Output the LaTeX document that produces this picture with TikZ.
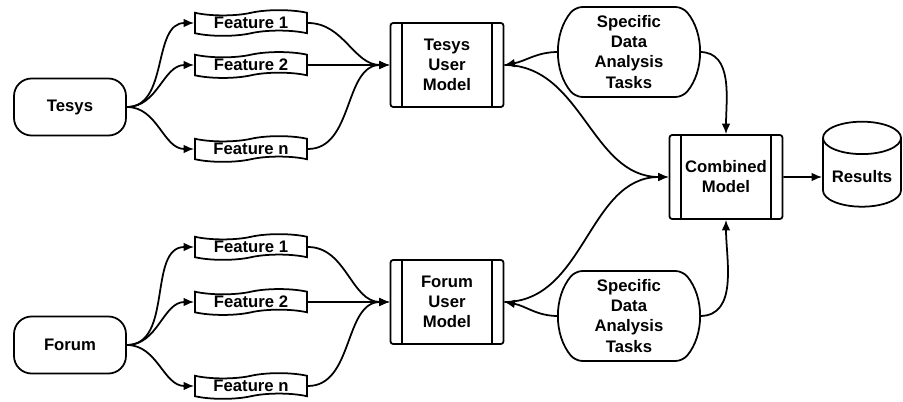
\documentclass[tikz,border=0pt]{standalone}
\usepackage{fontspec}
\setmainfont{Liberation Sans}
\usepackage{tikz}
\usetikzlibrary{shapes,arrows.meta}
\tikzstyle{source} = [rectangle, draw, rounded corners=10pt,
    minimum width=2.24cm, minimum height=1.14cm]
\tikzstyle{feature} = [tape, draw, tape bend top=in and out, tape bend bottom=in and out,
    tape bend height=3pt, minimum width=2.24cm, minimum height=0.5cm, inner sep=1pt]
\tikzstyle{model} = [rectangle, draw, rounded corners=1.5pt, align=center,
    minimum width=2.26cm, minimum height=1.68cm,
    path picture={
      \draw[line width=1pt] ([xshift=0.23cm]path picture bounding box.north west)
        -- ([xshift=0.23cm]path picture bounding box.south west);
      \draw[line width=1pt] ([xshift=-0.23cm]path picture bounding box.north east)
        -- ([xshift=-0.23cm]path picture bounding box.south east);}]
\tikzstyle{task} = [rounded rectangle, rounded rectangle arc length=80, rounded corners=4pt,
    draw, align=center, minimum width=2.28cm, minimum height=1.8cm, inner sep=1pt]
\tikzstyle{store} = [cylinder, shape border rotate=90, aspect=0.45, draw,
    minimum width=1.56cm, minimum height=1.7cm]
\tikzstyle{line} = [draw, -{Latex[length=6pt, width=5pt]}]

\begin{document}
\begin{tikzpicture}[node distance = 3cm, line width=1pt,
    font=\fontsize{9.5}{11.4}\selectfont\bfseries]
    \useasboundingbox (-1.4,2.14) rectangle (16.66,-5.88);
    % Place nodes
    \node [source] (tesys) {Tesys};
    \node [source, below of=tesys, node distance=4.76cm] (forum) {Forum};
    \node [feature, right of=tesys, node distance=3.62cm, yshift=0.84cm] (tfeat2) {Feature 2};
    \node [feature, above of=tfeat2, node distance=0.84cm] (tfeat1) {Feature 1};
    \node [feature, below of=tfeat2, node distance=1.68cm] (tfeatn) {Feature n};
    \node [feature, right of=forum, node distance=3.62cm, yshift=0.86cm] (ffeat2) {Feature 2};
    \node [feature, above of=ffeat2, node distance=1.1cm] (ffeat1) {Feature 1};
    \node [feature, below of=ffeat2, node distance=1.68cm] (ffeatn) {Feature n};
    \node [model, right of=tfeat2, node distance=3.92cm] (tmodel) {Tesys\\User\\Model};
    \node [model, right of=ffeat2, node distance=3.92cm] (fmodel) {Forum\\User\\Model};
    \node [task, right of=tmodel, node distance=3.64cm, yshift=0.26cm] (ttask) {Specific\\Data\\Analysis\\Tasks};
    \node [task, right of=fmodel, node distance=3.64cm, yshift=-0.28cm] (ftask) {Specific\\Data\\Analysis\\Tasks};
    \node [model, right of=tmodel, node distance=5.58cm, yshift=-2.24cm] (combined) {Combined\\Model};
    \node [store, right of=combined, node distance=2.72cm] (results) {Results};
    % Draw edges
    \path [line] (tesys.east) to[out=0, in=180] (tfeat1.west);
    \path [line] (tesys.east) to[out=0, in=180] (tfeat2.west);
    \path [line] (tesys.east) to[out=0, in=180] (tfeatn.west);
    \path [line] (forum.east) to[out=0, in=180] (ffeat1.west);
    \path [line] (forum.east) to[out=0, in=180] (ffeat2.west);
    \path [line] (forum.east) to[out=0, in=180] (ffeatn.west);
    \path [line] (tfeat1.east) to[out=0, in=180] (tmodel.west);
    \path [line] (tfeat2.east) -- (tmodel.west);
    \path [line] (tfeatn.east) to[out=0, in=180] (tmodel.west);
    \path [line] (ffeat1.east) to[out=0, in=180] (fmodel.west);
    \path [line] (ffeat2.east) -- (fmodel.west);
    \path [line] (ffeatn.east) to[out=0, in=180] (fmodel.west);
    \path [line] (ttask.west) to[out=180, in=10] (tmodel.east);
    \path [line] (ftask.west) to[out=180, in=-10] (fmodel.east);
    \path [line] (tmodel.east) to[out=0, in=180] (combined.west);
    \path [line] (fmodel.east) to[out=0, in=180] (combined.west);
    \path [line] (ttask.east) to[out=0, in=90] (combined.north);
    \path [line] (ftask.east) to[out=0, in=-90] (combined.south);
    \path [line] (combined) -- (results);
\end{tikzpicture}
\end{document}
